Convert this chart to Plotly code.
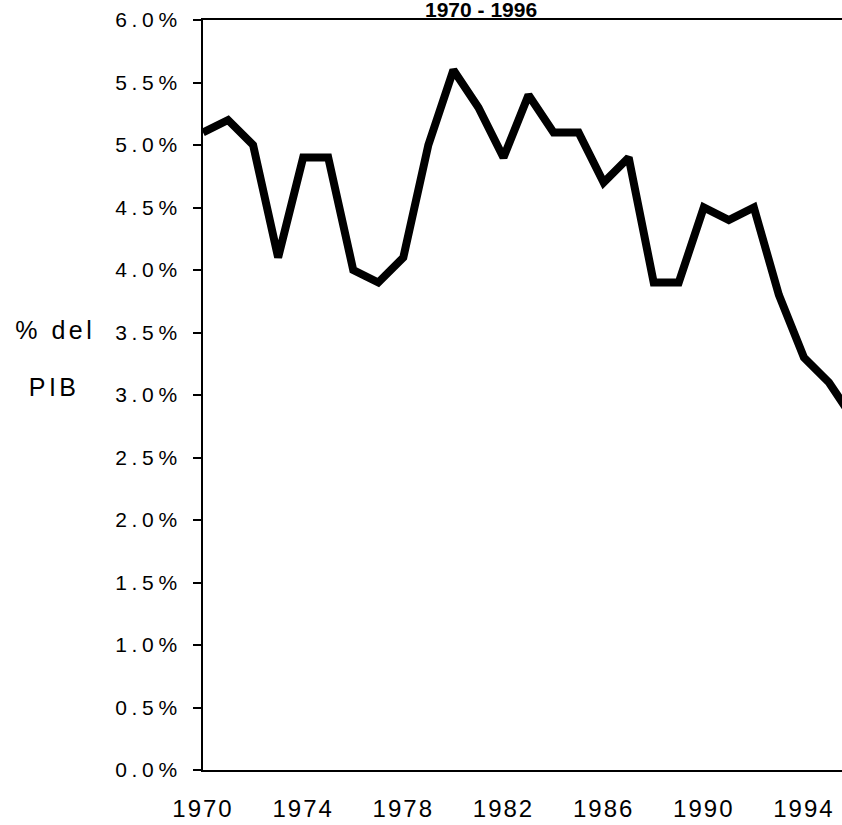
import plotly.graph_objects as go

# ---- data ----
years = [1970, 1971, 1972, 1973, 1974, 1975, 1976, 1977, 1978, 1979,
         1980, 1981, 1982, 1983, 1984, 1985, 1986, 1987, 1988, 1989,
         1990, 1991, 1992, 1993, 1994, 1995, 1996]
pct_pib = [5.1, 5.2, 5.0, 4.1, 4.9, 4.9, 4.0, 3.9, 4.1, 5.0,
           5.6, 5.3, 4.9, 5.4, 5.1, 5.1, 4.7, 4.9, 3.9, 3.9,
           4.5, 4.4, 4.5, 3.8, 3.3, 3.1, 2.8]
x_tick_vals = [1970, 1974, 1978, 1982, 1986, 1990, 1994]
x_tick_text = ["1970", "1974", "1978", "1982", "1986", "1990", "1994"]
y_tick_vals = [0.0, 0.5, 1.0, 1.5, 2.0, 2.5, 3.0, 3.5, 4.0, 4.5, 5.0, 5.5, 6.0]
y_tick_text = ["0.0%", "0.5%", "1.0%", "1.5%", "2.0%", "2.5%", "3.0%",
               "3.5%", "4.0%", "4.5%", "5.0%", "5.5%", "6.0%"]
title_text = "1970 - 1996"
y_title_lines = ["% del", "PIB"]

FONT = "Liberation Sans, Arial, sans-serif"
W, H = 842, 825
L, R, T, B = 203, 0, 20, 55

fig = go.Figure()
fig.add_trace(go.Scatter(
    x=years, y=pct_pib, mode="lines",
    line=dict(color="black", width=8),
    hoverinfo="skip", showlegend=False,
))

fig.update_layout(
    width=W, height=H,
    margin=dict(l=L, r=R, t=T, b=B, pad=0),
    paper_bgcolor="white", plot_bgcolor="white",
    font=dict(family=FONT, color="black"),
    showlegend=False,
)
fig.update_xaxes(
    range=[1970, 1995.52],
    tickmode="array", tickvals=x_tick_vals, ticktext=x_tick_text,
    tickfont=dict(size=24, family=FONT, color="black"),
    ticks="", showgrid=False, zeroline=False,
    showline=True, linecolor="black", linewidth=2, mirror=True,
    ticklabelstandoff=16,
)
fig.update_yaxes(
    range=[0, 6],
    tickmode="array", tickvals=y_tick_vals, ticktext=y_tick_text,
    tickfont=dict(size=21, family=FONT, color="black"),
    ticks="outside", ticklen=8, tickwidth=2, tickcolor="black",
    showgrid=False, zeroline=False,
    showline=True, linecolor="black", linewidth=2,
    ticklabelstandoff=7,
)

# title near the top edge, as in the reference
fig.add_annotation(
    text="<b>" + title_text + "</b>", xref="paper", yref="paper",
    x=(481 - L) / (W - L - R), y=1 + (T - 9.5) / (H - T - B),
    xanchor="center", yanchor="middle", showarrow=False,
    font=dict(size=21, family=FONT, color="black"),
)
# y-axis title, two separate lines
for line_txt, xpix, ypix in zip(y_title_lines, [55.5, 54], [330, 387]):
    fig.add_annotation(
        text=line_txt, xref="paper", yref="paper",
        x=(xpix - L) / (W - L - R), y=1 - (ypix - T) / (H - T - B),
        xanchor="center", yanchor="middle", showarrow=False,
        font=dict(size=25, family=FONT, color="black"),
    )

post_js = """
document.body.style.margin = '0';
document.body.style.padding = '0';
var gd = document.getElementById('{plot_id}');
function spaceText() {
  gd.querySelectorAll('.ytick text').forEach(function(t){ t.style.letterSpacing = '4.7px'; });
  gd.querySelectorAll('.xtick text').forEach(function(t){ t.style.letterSpacing = '2px'; });
  var anns = gd.querySelectorAll('.annotation-text');
  anns.forEach(function(t, i){ if (i > 0) { t.style.letterSpacing = '3.5px'; } });
}
spaceText();
gd.on && gd.on('plotly_afterplot', spaceText);
"""

fig.write_html("out.html", post_script=post_js,
               config={"displayModeBar": False, "staticPlot": True})
